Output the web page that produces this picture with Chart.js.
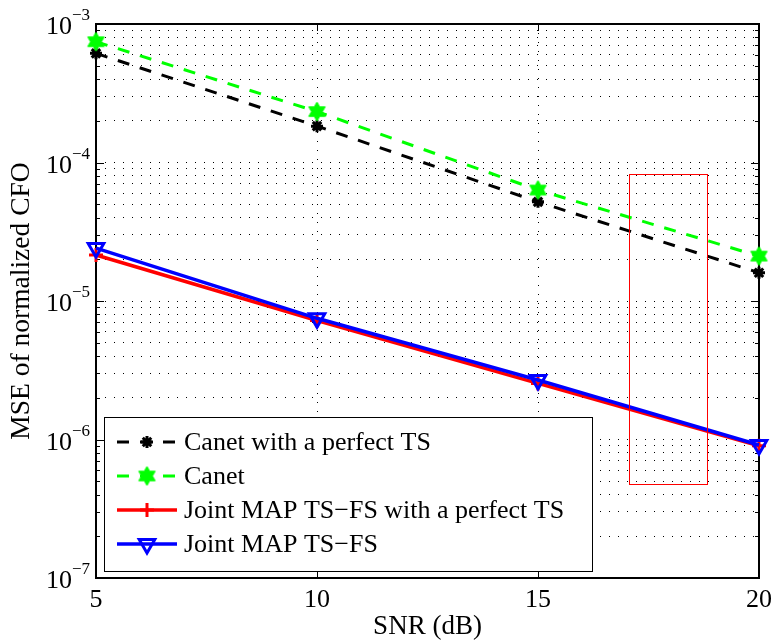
<!DOCTYPE html>
<html><head><meta charset="utf-8">
<script src="https://cdn.jsdelivr.net/npm/chart.js@4"></script>
<style>html,body{margin:0;padding:0;background:#fff}canvas{display:block}</style>
</head><body>
<canvas id="c" width="774" height="644"></canvas>
<script>
// ---- data ----
const snr = [5, 10, 15, 20];
const canetPerfectTS = [6.14e-4, 1.83e-4, 5.2e-5, 1.6e-5];
const canet = [7.45e-4, 2.33e-4, 6.33e-5, 2.11e-5];
const jointPerfectTS = [2.15e-5, 7.23e-6, 2.54e-6, 9.0e-7];
const jointTSFS = [2.41e-5, 7.5e-6, 2.69e-6, 9.13e-7];
const seriesNames = ['Canet with a perfect TS', 'Canet', 'Joint MAP TS\u2212FS with a perfect TS', 'Joint MAP TS\u2212FS'];
const xTicks = [5, 10, 15, 20];
const yDecades = [-7, -6, -5, -4, -3];
const highlightX = [17.07, 18.84];
const highlightY = [4.77e-7, 8.26e-5];

const SERIF = '"Liberation Serif", "Times New Roman", serif';

function hexagram(r, color) {
  const c = document.createElement('canvas');
  const s = Math.ceil(2 * r + 4);
  c.width = s; c.height = s;
  const g = c.getContext('2d');
  g.translate(s / 2, s / 2);
  g.fillStyle = color; g.strokeStyle = color; g.lineWidth = 1;
  g.beginPath();
  for (let i = 0; i < 12; i++) {
    const a = -Math.PI / 2 + i * Math.PI / 6;
    const rr = i % 2 === 0 ? r : r / Math.sqrt(3);
    g.lineTo(rr * Math.cos(a), rr * Math.sin(a));
  }
  g.closePath(); g.fill(); g.stroke();
  return c;
}
const hexGreen = hexagram(9.5, '#00ff00');

function pts(ys) { return snr.map((x, i) => ({x: x, y: ys[i]})); }

const datasets = [
  {label: seriesNames[0], data: pts(canetPerfectTS), borderColor: '#000', backgroundColor: '#000',
   borderWidth: 3, borderDash: [12, 11], pointStyle: 'star', pointRadius: 6, pointBorderWidth: 3,
   pointBorderColor: '#000', pointBackgroundColor: '#000', order: 4},
  {label: seriesNames[1], data: pts(canet), borderColor: '#00ff00', backgroundColor: '#00ff00',
   borderWidth: 3, borderDash: [12, 11], pointStyle: hexGreen, pointRadius: 9, pointBorderWidth: 0,
   order: 3},
  {label: seriesNames[2], data: pts(jointPerfectTS), borderColor: '#ff0000', backgroundColor: '#ff0000',
   borderWidth: 3.5, pointStyle: 'cross', pointRadius: 7, pointBorderWidth: 3,
   pointBorderColor: '#ff0000', order: 2},
  {label: seriesNames[3], data: pts(jointTSFS), borderColor: '#0000ff', backgroundColor: 'rgba(0,0,0,0)',
   borderWidth: 3.5, pointStyle: 'triangle', pointRotation: 180, pointRadius: 9, pointBorderWidth: 3,
   pointBorderColor: '#0000ff', pointBackgroundColor: 'rgba(0,0,0,0)', order: 1}
];
datasets.forEach(d => { d.clip = false; d.tension = 0; d.fill = false; });

function line(ctx, x1, y1, x2, y2) { ctx.beginPath(); ctx.moveTo(x1, y1); ctx.lineTo(x2, y2); ctx.stroke(); }

const decor = {
  id: 'decor',
  beforeDatasetsDraw(chart) {
    const {ctx, chartArea: a, scales: {x, y}} = chart;
    ctx.save();
    ctx.strokeStyle = '#000';
    ctx.lineWidth = 1;
    y.ticks.forEach(t => {
      const py = Math.round(y.getPixelForValue(t.value)) + 0.5;
      const lg = Math.log10(t.value);
      const major = Math.abs(lg - Math.round(lg)) < 1e-9;
      const len = major ? 8 : 4;
      line(ctx, a.left, py, a.left + len, py);
      line(ctx, a.right, py, a.right - len, py);
    });
    x.ticks.forEach(t => {
      const px = Math.round(x.getPixelForValue(t.value)) + 0.5;
      line(ctx, px, a.bottom, px, a.bottom - 7);
      line(ctx, px, a.top, px, a.top + 7);
    });
    ctx.lineWidth = 2;
    ctx.strokeRect(a.left, a.top, a.right - a.left, a.bottom - a.top);
    ctx.restore();
  },
  afterDatasetsDraw(chart) {
    const {ctx, scales: {x, y}} = chart;
    ctx.save();
    // red highlight rectangle
    const rx1 = x.getPixelForValue(highlightX[0]), rx2 = x.getPixelForValue(highlightX[1]);
    const ry1 = y.getPixelForValue(highlightY[1]), ry2 = y.getPixelForValue(highlightY[0]);
    ctx.strokeStyle = '#ff0000'; ctx.lineWidth = 1;
    ctx.strokeRect(Math.round(rx1) + 0.5, Math.round(ry1) + 0.5, Math.round(rx2 - rx1), Math.round(ry2 - ry1));
    // legend
    const lx = 104, ly = 417, lw = 488, lh = 154;
    ctx.fillStyle = '#fff';
    ctx.fillRect(lx, ly, lw, lh);
    ctx.strokeStyle = '#000'; ctx.lineWidth = 1;
    ctx.strokeRect(lx + 0.5, ly + 0.5, lw, lh);
    chart.data.datasets.forEach((d, i) => {
      const cy = ly + 25 + i * 34;
      ctx.save();
      ctx.strokeStyle = d.borderColor; ctx.lineWidth = d.borderWidth;
      ctx.setLineDash(d.borderDash || []);
      line(ctx, 117, cy, 177, cy);
      ctx.restore();
      ctx.save();
      ctx.strokeStyle = d.pointBorderColor || d.borderColor;
      ctx.fillStyle = d.pointBackgroundColor || d.backgroundColor;
      ctx.lineWidth = d.pointBorderWidth;
      Chart.helpers.drawPoint(ctx, {pointStyle: d.pointStyle, rotation: d.pointRotation || 0,
        radius: d.pointRadius, borderWidth: d.pointBorderWidth}, 147, cy);
      ctx.restore();
      ctx.fillStyle = '#000';
      ctx.font = '26px ' + SERIF;
      ctx.textAlign = 'left'; ctx.textBaseline = 'middle';
      ctx.fillText(d.label, 184, cy + 1);
    });
    ctx.restore();
  },
  afterDraw(chart) {
    const {ctx, scales: {y}} = chart;
    ctx.save();
    ctx.fillStyle = '#000';
    ctx.textBaseline = 'alphabetic';
    yDecades.forEach(e => {
      const py = y.getPixelForValue(Math.pow(10, e));
      ctx.font = '26px ' + SERIF;
      ctx.textAlign = 'right';
      ctx.fillText('10', 72, py + 10);
      ctx.font = '17px ' + SERIF;
      ctx.textAlign = 'left';
      ctx.fillText('\u2212' + Math.abs(e), 72, py - 4);
    });
    ctx.restore();
  }
};

new Chart(document.getElementById('c').getContext('2d'), {
  type: 'line',
  data: {datasets: datasets},
  options: {
    responsive: false, animation: false, devicePixelRatio: 1,
    layout: {padding: {left: 0, right: 15, top: 24, bottom: 0}},
    plugins: {legend: {display: false}, tooltip: {enabled: false}},
    scales: {
      x: {
        type: 'linear', min: 5, max: 20,
        afterBuildTicks: s => { s.ticks = xTicks.map(v => ({value: v})); },
        afterFit: s => { s.height = 66; s.paddingLeft = 0; s.paddingRight = 0; },
        grid: {color: '#000', lineWidth: 1, drawTicks: false},
        border: {display: false, dash: [1, 8]},
        ticks: {font: {family: SERIF, size: 26}, color: '#000', padding: 7, maxRotation: 0, autoSkip: false},
        title: {display: true, text: 'SNR (dB)', font: {family: SERIF, size: 27}, color: '#000', padding: {top: 0, bottom: 1}}
      },
      y: {
        type: 'logarithmic', min: 1e-7, max: 1e-3,
        afterBuildTicks: s => {
          const t = [];
          for (let e = -7; e < -3; e++) for (let m = 1; m < 10; m++) t.push({value: m * Math.pow(10, e)});
          t.push({value: 1e-3});
          s.ticks = t;
        },
        afterFit: s => { s.width = 96; s.paddingTop = 0; s.paddingBottom = 0; },
        ticks: {display: false},
        grid: {color: '#000', lineWidth: 1, drawTicks: false},
        border: {display: false, dash: [1, 8]},
        title: {display: true, text: 'MSE of normalized CFO', font: {family: SERIF, size: 27.5}, color: '#000', padding: {top: 5, bottom: 0}}
      }
    }
  },
  plugins: [decor]
});
</script>
</body></html>
